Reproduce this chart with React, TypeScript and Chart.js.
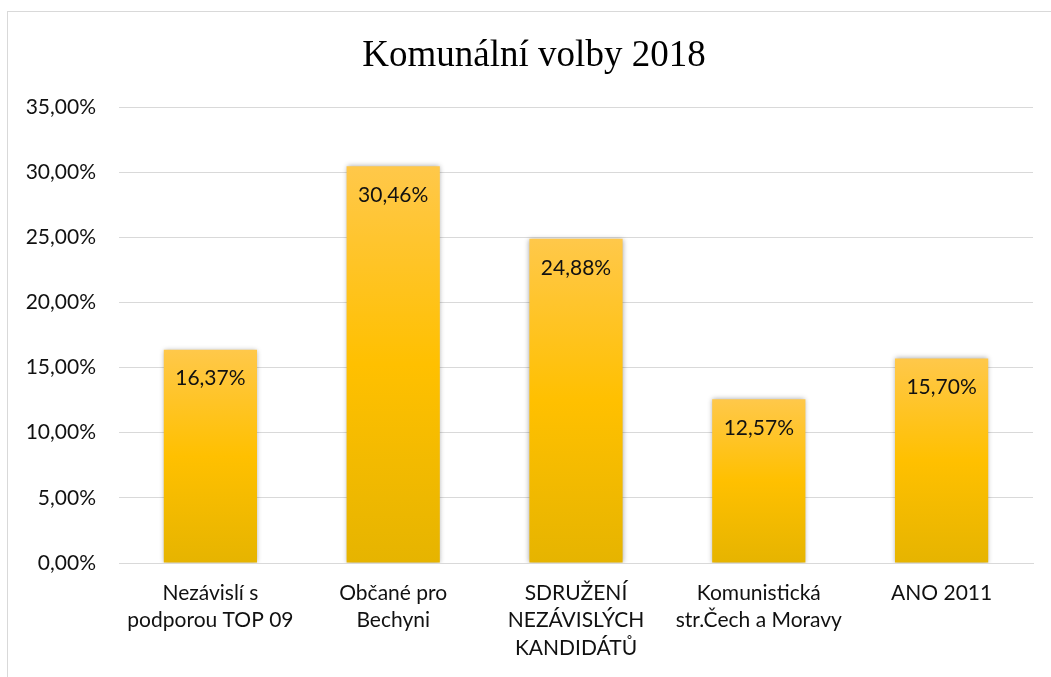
import React, { useEffect, useRef } from "react";
import { Chart, registerables } from "chart.js";

Chart.register(...registerables);

const TITLE = "Komunální volby 2018";
const categories: string[][] = [
  ["Nezávislí s", "podporou TOP 09"],
  ["Občané pro", "Bechyni"],
  ["SDRUŽENÍ", "NEZÁVISLÝCH", "KANDIDÁTŮ"],
  ["Komunistická", "str.Čech a Moravy"],
  ["ANO 2011"],
];
const values: number[] = [16.37, 30.46, 24.88, 12.57, 15.7];
const yMax = 35;
const yStep = 5;

const fmt = (v: number) => v.toFixed(2).replace(".", ",") + "%";
const FONT = "Lato";

export default function App() {
  const ref = useRef<HTMLCanvasElement | null>(null);
  useEffect(() => {
    const canvas = ref.current!;
    const decor = {
      id: "decor",
      beforeDraw(chart: any) {
        const c = chart.ctx;
        c.save();
        c.fillStyle = "#ffffff";
        c.fillRect(0, 0, chart.width, chart.height);
        c.strokeStyle = "#d9d9d9";
        c.lineWidth = 1;
        c.strokeRect(7.5, 11.5, 3000, 3000);
        c.fillStyle = "#000000";
        c.font = "37px 'Liberation Serif'";
        c.textAlign = "center";
        c.textBaseline = "middle";
        c.fillText(TITLE, 534, 56);
        c.restore();
      },
      beforeDatasetsDraw(chart: any) {
        const c = chart.ctx;
        c.save();
        c.shadowColor = "rgba(0,0,0,0.35)";
        c.shadowBlur = 5;
        c.shadowOffsetX = 0;
        c.shadowOffsetY = 0;
      },
      afterDatasetsDraw(chart: any) {
        const c = chart.ctx;
        c.restore();
        const meta = chart.getDatasetMeta(0);
        c.save();
        c.fillStyle = "#111111";
        c.font = `21px ${FONT}`;
        c.textAlign = "center";
        c.textBaseline = "middle";
        meta.data.forEach((bar: any, i: number) => {
          c.fillText(fmt(values[i]), bar.x, bar.y + 29);
        });
        c.restore();
      },
    };
    const chart = new Chart(canvas, {
      type: "bar",
      data: {
        labels: categories as any,
        datasets: [
          {
            data: values,
            barPercentage: 0.51,
            categoryPercentage: 1,
            backgroundColor: (ctx: any) => {
              const ch = ctx.chart;
              const { chartArea, scales } = ch;
              if (!chartArea || ctx.type !== "data" || !scales.y) return "#FFC000";
              const yTop = scales.y.getPixelForValue(ctx.raw);
              const yBot = scales.y.getPixelForValue(0);
              const g = ch.ctx.createLinearGradient(0, yTop, 0, yBot);
              g.addColorStop(0, "#FFC84A");
              g.addColorStop(0.5, "#FFC000");
              g.addColorStop(1, "#E6B400");
              return g;
            },
            borderWidth: 0,
          },
        ],
      },
      options: {
        responsive: false,
        animation: false,
        layout: { padding: { top: 107, right: 18, left: 0, bottom: 0 } },
        plugins: {
          legend: { display: false },
          title: { display: false },
          tooltip: { enabled: false },
        },
        scales: {
          x: {
            grid: { display: false, drawTicks: false },
            border: { display: true, color: "#d9d9d9", width: 1 },
            ticks: {
              color: "#111111",
              font: { family: FONT, size: 21, lineHeight: 27.5 / 21 },
              padding: 16,
              maxRotation: 0,
              autoSkip: false,
            },
            afterFit: (s: any) => {
              s.height = 677 - 563;
            },
          },
          y: {
            min: 0,
            max: yMax,
            grid: { color: "#d9d9d9", lineWidth: 1, drawTicks: false },
            border: { display: false },
            ticks: {
              stepSize: yStep,
              color: "#111111",
              font: { family: FONT, size: 21 },
              padding: 23,
              callback: (v: any) => fmt(Number(v)),
            },
            afterFit: (s: any) => {
              s.width = 119;
            },
          },
        },
      },
      plugins: [decor],
    });
    return () => chart.destroy();
  }, []);
  return (
    <div style={{ position: "absolute", left: 0, top: 0, width: 1051, height: 677 }}>
      <canvas ref={ref} width={1051} height={677} />
    </div>
  );
}
